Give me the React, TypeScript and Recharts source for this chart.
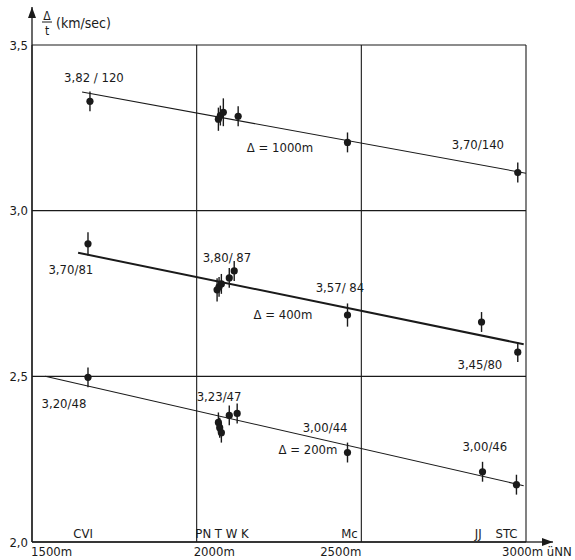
import React from 'react'
import {
  ComposedChart,
  Scatter,
  Line,
  XAxis,
  YAxis,
  CartesianGrid,
  ErrorBar,
  ReferenceLine,
  ReferenceDot,
} from 'recharts'

const INK = '#1a1a1a'
const FONT = "'DejaVu Sans Condensed', 'Liberation Sans Narrow', sans-serif"

// axes
const xTicks = [1500, 2000, 2500, 3000]
const xTickLabels = ['1500m', '2000m', '2500m', '3000m üNN']
const yTicks = [2.0, 2.5, 3.0, 3.5]

// Δ = 1000 m
const topAlt = [1676, 2066, 2072, 2081, 2126, 2458, 2975]
const topVel = [3.33, 3.276, 3.287, 3.297, 3.285, 3.206, 3.115]
const topErr = [0.03, 0.035, 0.03, 0.042, 0.03, 0.03, 0.03]

// Δ = 400 m
const midAlt = [1670, 2062, 2068, 2075, 2099, 2114, 2458, 2865, 2975]
const midVel = [2.9, 2.761, 2.77, 2.779, 2.797, 2.818, 2.685, 2.664, 2.573]
const midErr = [0.035, 0.035, 0.03, 0.03, 0.03, 0.03, 0.035, 0.03, 0.03]

// Δ = 200 m
const botAlt = [1670, 2066, 2070, 2075, 2099, 2123, 2458, 2868, 2971]
const botVel = [2.497, 2.361, 2.345, 2.33, 2.382, 2.388, 2.27, 2.212, 2.173]
const botErr = [0.03, 0.03, 0.03, 0.03, 0.03, 0.03, 0.03, 0.03, 0.03]

// Ausgleichsgeraden
const topFitAlt = [1652, 3000]
const topFitVel = [3.358, 3.113]
const midFitAlt = [1640, 2993]
const midFitVel = [2.873, 2.597]
const botFitAlt = [1540, 2993]
const botFitVel = [2.5, 2.17]

// Beschriftungen im Diagramm
const noteText = [
  '3,82 / 120', 'Δ = 1000m', '3,70/140',
  '3,70/81', '3,80/ 87', 'Δ = 400m', '3,57/ 84', '3,45/80',
  '3,20/48', '3,23/47', '3,00/44', 'Δ = 200m', '3,00/46',
]
const noteAlt = [1688, 2253, 2854, 1618, 2092, 2262, 2435, 2860, 1597, 2068, 2390, 2338, 2875]
const noteVel = [3.403, 3.191, 3.2, 2.821, 2.858, 2.688, 2.767, 2.536, 2.418, 2.439, 2.345, 2.279, 2.288]

// Stationen
const stationText = ['CVI', 'PN T W K', 'Mc', 'JJ', 'STC']
const stationAlt = [1655, 2077, 2464, 2855, 2941]
const stationVel = [2.027, 2.027, 2.027, 2.027, 2.027]

// Pfeilspitzen der Achsen
const yArrowTip = 3.615
const xArrowTip = 3082

function zip(xs: number[], ys: number[], errs?: number[]) {
  return xs.map((x, i) => ({ x, y: ys[i], err: errs ? errs[i] : 0 }))
}

const topPts = zip(topAlt, topVel, topErr)
const midPts = zip(midAlt, midVel, midErr)
const botPts = zip(botAlt, botVel, botErr)
const notes = noteText.map((text, i) => ({ x: noteAlt[i], y: noteVel[i], text }))
const stations = stationText.map((text, i) => ({ x: stationAlt[i], y: stationVel[i], text }))

const X_ANCHOR = ['start', 'start', 'end', 'start'] as const
const X_SHIFT = [-1, -3, 0, -24]

function XTick(props: any) {
  const { x, y, index } = props
  return (
    <text
      x={x + X_SHIFT[index]}
      y={y + 6}
      textAnchor={X_ANCHOR[index]}
      fontSize={13}
      fontFamily={FONT}
      fill={INK}
    >
      {xTickLabels[index]}
    </text>
  )
}

function AxisTitle(props: any) {
  const vb = props.viewBox
  const x = vb.x + vb.width + 15
  const y = vb.y
  return (
    <g fill={INK} fontFamily={FONT} fontSize={12}>
      <text x={x} y={y - 25} textAnchor="middle">Δ</text>
      <line x1={x - 5} x2={x + 5} y1={y - 23} y2={y - 23} stroke={INK} strokeWidth={1} />
      <text x={x} y={y - 10} textAnchor="middle">t</text>
      <text x={x + 9} y={y - 17} fontSize={14}>(km/sec)</text>
    </g>
  )
}

const dot = (p: any) => <circle cx={p.cx} cy={p.cy} r={3.6} fill={INK} />
const label = (size: number) => (p: any) => (
  <text
    x={p.cx}
    y={p.cy}
    textAnchor="middle"
    dominantBaseline="central"
    fontSize={size}
    fontFamily={FONT}
    fill={INK}
  >
    {p.payload.text}
  </text>
)

export default function App() {
  return (
    <div style={{ position: 'absolute', left: 0, top: 0, background: '#fff' }}>
      <ComposedChart
        width={575}
        height={560}
        margin={{ top: 45, right: 49, left: 0, bottom: 0 }}
      >
        <CartesianGrid stroke={INK} strokeWidth={1.1} />
        <XAxis
          type="number"
          dataKey="x"
          domain={[1500, 3000]}
          ticks={xTicks}
          tick={<XTick />}
          tickLine={false}
          axisLine={{ stroke: INK, strokeWidth: 1.3 }}
          height={18}
          allowDataOverflow
        />
        <YAxis
          type="number"
          dataKey="y"
          domain={[2, 3.5]}
          ticks={yTicks}
          tickFormatter={(v: number) => v.toFixed(1).replace('.', ',')}
          tick={{ fontSize: 13, fill: INK, fontFamily: FONT }}
          tickLine={false}
          tickSize={2}
          tickMargin={2}
          axisLine={{ stroke: INK, strokeWidth: 1.3 }}
          width={32}
          allowDataOverflow
          label={{ content: <AxisTitle /> }}
        />

        {/* Achsenpfeile */}
        <ReferenceLine
          segment={[{ x: 1500, y: 3.5 }, { x: 1500, y: yArrowTip }]}
          stroke={INK}
          strokeWidth={1.3}
          ifOverflow="visible"
        />
        <ReferenceDot
          x={1500}
          y={yArrowTip}
          ifOverflow="visible"
          shape={(p: any) => (
            <polygon
              points={`${p.cx},${p.cy} ${p.cx - 4},${p.cy + 11} ${p.cx + 4},${p.cy + 11}`}
              fill={INK}
            />
          )}
        />
        <ReferenceLine
          segment={[{ x: 3000, y: 2 }, { x: xArrowTip, y: 2 }]}
          stroke={INK}
          strokeWidth={1.3}
          ifOverflow="visible"
        />
        <ReferenceDot
          x={xArrowTip}
          y={2}
          ifOverflow="visible"
          shape={(p: any) => (
            <polygon
              points={`${p.cx},${p.cy} ${p.cx - 11},${p.cy - 4} ${p.cx - 11},${p.cy + 4}`}
              fill={INK}
            />
          )}
        />

        {/* Ausgleichsgeraden */}
        <Line data={zip(topFitAlt, topFitVel)} dataKey="y" type="linear" stroke={INK} strokeWidth={1.1} dot={false} activeDot={false} isAnimationActive={false} />
        <Line data={zip(midFitAlt, midFitVel)} dataKey="y" type="linear" stroke={INK} strokeWidth={2} dot={false} activeDot={false} isAnimationActive={false} />
        <Line data={zip(botFitAlt, botFitVel)} dataKey="y" type="linear" stroke={INK} strokeWidth={1.1} dot={false} activeDot={false} isAnimationActive={false} />

        {/* Messpunkte */}
        <Scatter data={topPts} shape={dot} isAnimationActive={false}>
          <ErrorBar dataKey="err" direction="y" width={0} stroke={INK} strokeWidth={1.4} />
        </Scatter>
        <Scatter data={midPts} shape={dot} isAnimationActive={false}>
          <ErrorBar dataKey="err" direction="y" width={0} stroke={INK} strokeWidth={1.4} />
        </Scatter>
        <Scatter data={botPts} shape={dot} isAnimationActive={false}>
          <ErrorBar dataKey="err" direction="y" width={0} stroke={INK} strokeWidth={1.4} />
        </Scatter>

        {/* Texte */}
        <Scatter data={notes} shape={label(13)} isAnimationActive={false} />
        <Scatter data={stations} shape={label(13)} isAnimationActive={false} />
      </ComposedChart>
    </div>
  )
}
